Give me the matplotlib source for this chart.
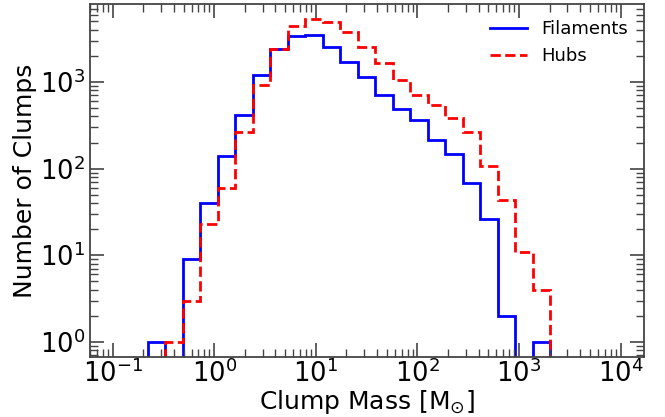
import numpy as np
import matplotlib.pyplot as plt

# --- histogram data (log-spaced bins, 10^-1 .. 10^4) ---
bin_edges = np.logspace(-1, 4, 30)

filament_counts = [0, 0, 1, 0, 9, 40, 140, 420, 1200, 2400, 3400, 3450, 2530,
                   1700, 1150, 700, 490, 360, 215, 148, 69, 26, 2, 0, 1,
                   0, 0, 0, 0]
hub_counts = [0, 0, 0, 1, 3, 23, 59, 265, 920, 2400, 4430, 5330, 4960,
              3740, 2550, 1660, 1060, 710, 540, 380, 263, 107, 43, 11, 4,
              0, 0, 0, 0]

spine_col = '#444444'

fig = plt.figure(figsize=(6.65, 4.17), dpi=100)
ax = fig.add_axes([0.1353, 0.144, 0.8331, 0.846])

ax.stairs(filament_counts, bin_edges, color='blue', linewidth=2, label='Filaments')
ax.stairs(hub_counts, bin_edges, color='red', linewidth=2, linestyle='--', label='Hubs')

ax.set_xscale('log')
ax.set_yscale('log')
ax.set_xlim(0.06, 1.7e4)
ax.set_ylim(0.67, 7900)

ax.set_xlabel(r'Clump Mass [M$_{\odot}$]', fontsize=18, labelpad=0)
ax.set_ylabel('Number of Clumps', fontsize=18, labelpad=2)

ax.tick_params(which='both', direction='in', top=True, right=True,
               color=spine_col, labelsize=18.5)
ax.tick_params(axis='x', which='both', pad=2)
ax.tick_params(which='major', length=10, width=1.2)
ax.tick_params(which='minor', length=6, width=1.0)
for s in ax.spines.values():
    s.set_color(spine_col)
    s.set_linewidth(1.3)

ax.legend(loc='upper right', frameon=False, fontsize=13)

fig.savefig('out.png', dpi=100)
